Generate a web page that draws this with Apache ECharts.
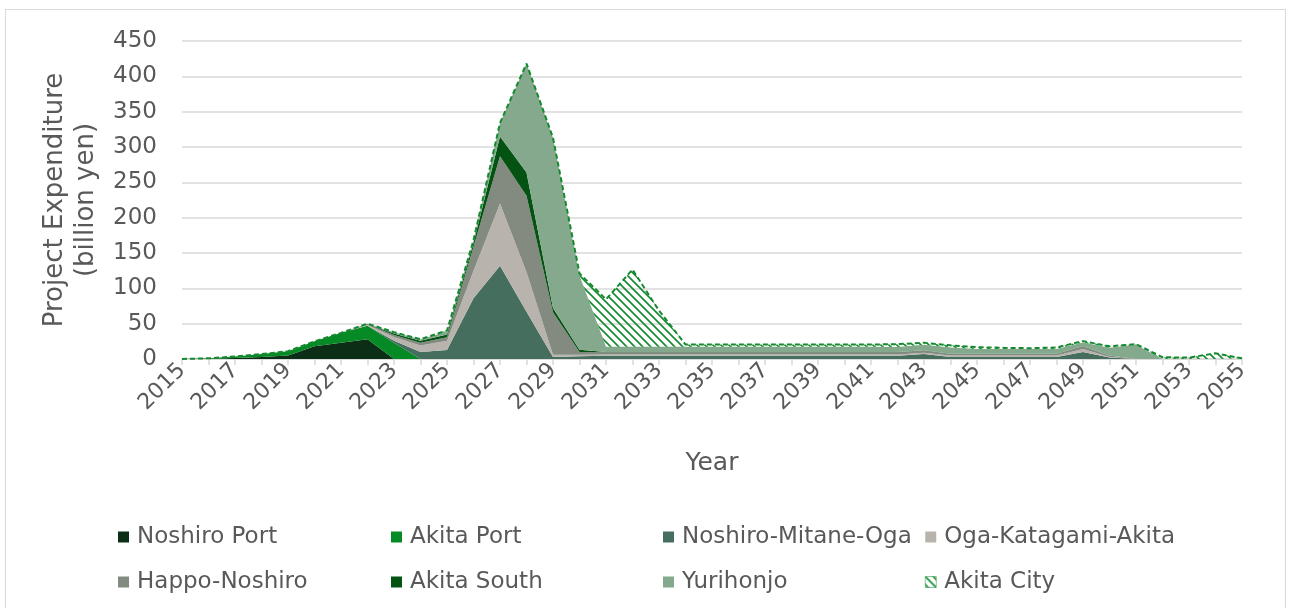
<!DOCTYPE html>
<html>
<head>
<meta charset="utf-8">
<script src="https://cdn.jsdelivr.net/npm/echarts@6/dist/echarts.min.js"></script>
<style>
  html, body { margin: 0; padding: 0; background: #fff; }
  #frame {
    position: absolute; left: 5px; top: 9px; width: 1281px; height: 620px;
    border: 1px solid #d9d9d9; box-sizing: border-box;
  }
  #chart { position: absolute; left: 0; top: 0; width: 1290px; height: 608px; }
</style>
</head>
<body>
<div id="frame"></div>
<div id="chart"></div>
<script>
// years on the x axis
const years = [
  "2015", "2016", "2017", "2018", "2019", "2020", "2021", "2022", "2023", "2024",
  "2025", "2026", "2027", "2028", "2029", "2030", "2031", "2032", "2033", "2034",
  "2035", "2036", "2037", "2038", "2039", "2040", "2041", "2042", "2043", "2044",
  "2045", "2046", "2047", "2048", "2049", "2050", "2051", "2052", "2053", "2054", "2055"
];

// project expenditure per site (billion yen), stacked bottom to top
const noshiroPort = [
  0, 0.5, 1.5, 3, 5, 18, 23, 28, 0, 0,
  0, 0, 0, 0, 0, 0, 0, 0, 0, 0,
  0, 0, 0, 0, 0, 0, 0, 0, 0, 0,
  0, 0, 0, 0, 0, 0, 0, 0, 0, 0, 0
];
const akitaPort = [
  0, 0.5, 2, 4, 6, 7, 14, 19, 23, 0,
  0, 0, 0, 0, 0, 0, 0, 0, 0, 0,
  0, 0, 0, 0, 0, 0, 0, 0, 0, 0,
  0, 0, 0, 0, 0, 0, 0, 0, 0, 0, 0
];
const noshiroMitaneOga = [
  0, 0, 0, 0, 0, 0, 0, 0, 3, 10,
  12.7, 86, 132, 67, 3, 4, 4.5, 4.5, 4.5, 4.5,
  4.5, 4.5, 4.5, 4.5, 4.5, 4.5, 4.5, 4.5, 7, 3,
  3, 3, 3, 3, 10, 2, 0, 0, 0, 0, 0
];
const ogaKatagamiAkita = [
  0, 0, 0, 0, 0, 0, 0, 1, 5, 9,
  13, 39, 88, 56, 3, 2, 2, 2, 2, 2,
  2, 2, 2, 2, 2, 2, 2, 2, 2, 2,
  2, 2, 2, 2, 4, 1, 0, 0, 0, 0, 0
];
const happoNoshiro = [
  0, 0, 0, 0, 0, 0, 0, 1, 3, 4,
  5, 34, 67, 108, 60, 4, 3, 3, 3, 3,
  3, 3, 3, 3, 3, 3, 3, 3, 3, 2,
  2, 2, 2, 2, 4, 2, 0, 0, 0, 0, 0
];
const akitaSouth = [
  0, 0, 0, 0, 0, 0, 0, 0.5, 2, 3,
  4, 5, 28, 33, 6, 3, 0.5, 0.5, 0.5, 0.5,
  0.5, 0.5, 0.5, 0.5, 0.5, 0.5, 0.5, 0.5, 0.5, 0.3,
  0.3, 0.3, 0.3, 0.3, 0.3, 0, 0, 0, 0, 0, 0
];
const yurihonjo = [
  0, 0, 0, 0, 0, 0, 0, 0.5, 2, 2,
  4, 4, 19, 154, 241, 105, 7.5, 7.5, 7.5, 7.5,
  7.5, 7.5, 7.5, 7.5, 7.5, 7.5, 7.5, 7, 7.5, 9,
  7, 7, 7, 7, 5, 11, 20, 0, 0, 0, 0
];
const akitaCity = [
  0, 0, 0, 0, 0, 0, 0, 0, 0, 0,
  1.5, 0, 0, 0, 0, 3, 67, 109, 51, 3,
  3, 3, 3, 3, 3, 3, 3, 4, 3, 3,
  2.5, 1.5, 1, 2, 2, 2, 1, 2.5, 2, 8, 1
];

const seriesNames = [
  "Noshiro Port", "Akita Port", "Noshiro-Mitane-Oga", "Oga-Katagami-Akita",
  "Happo-Noshiro", "Akita South", "Yurihonjo", "Akita City"
];
const seriesData = [
  noshiroPort, akitaPort, noshiroMitaneOga, ogaKatagamiAkita,
  happoNoshiro, akitaSouth, yurihonjo, akitaCity
];
const seriesColors = [
  "#0c2e16", "#068a25", "#466e5e", "#b8b4ad",
  "#838a7f", "#045313", "#84a98d", "#15892f"
];

/* hatch pattern for Akita City */
function makeHatch() {
  const c = document.createElement("canvas");
  c.width = 8;
  c.height = 8;
  const ctx = c.getContext("2d");
  ctx.strokeStyle = "#15892f";
  ctx.lineWidth = 1.6;
  ctx.beginPath();
  ctx.moveTo(-2, -2); ctx.lineTo(10, 10);
  ctx.moveTo(-2, 6); ctx.lineTo(2, 10);
  ctx.moveTo(6, -2); ctx.lineTo(10, 2);
  ctx.stroke();
  return { image: c, repeat: "repeat" };
}
const hatch = makeHatch();

const font = "DejaVu Sans";
const textColor = "#595959";

const series = seriesNames.map(function (name, i) {
  const isCity = name === "Akita City";
  return {
    name: name,
    type: "line",
    stack: "total",
    symbol: "none",
    animation: false,
    data: seriesData[i],
    itemStyle: { color: isCity ? hatch : seriesColors[i] },
    lineStyle: isCity
      ? { color: seriesColors[i], width: 2, type: [5, 3] }
      : { width: 0 },
    areaStyle: { color: isCity ? hatch : seriesColors[i], opacity: 1 },
    z: isCity ? 3 : 2,
  };
});

// legend in 4 columns, 2 rows like the original
const legendCols = [
  { left: 113, data: ["Noshiro Port", "Happo-Noshiro"] },
  { left: 386, data: ["Akita Port", "Akita South"] },
  { left: 658, data: ["Noshiro-Mitane-Oga", "Yurihonjo"] },
  { left: 920, data: ["Oga-Katagami-Akita", "Akita City"] },
];
const legends = legendCols.map(function (col) {
  return {
    orient: "vertical",
    left: col.left,
    top: 519,
    itemGap: 19,
    itemWidth: 11,
    itemHeight: 11,
    icon: "rect",
    selectedMode: false,
    data: col.data.map(function (n) {
      return n === "Akita City"
        ? { name: n, itemStyle: { color: hatch, borderColor: "#15892f", borderWidth: 0.5 } }
        : { name: n };
    }),
    textStyle: {
      fontFamily: font,
      fontSize: 23,
      color: textColor,
      lineHeight: 26,
      padding: [0, 0, 0, 3],
    },
  };
});

let option = {
  backgroundColor: "transparent",
  animation: false,
  legend: legends,
  grid: {
    left: 182,
    right: 48,
    top: 41,
    bottom: 249,
    containLabel: false,
  },
  xAxis: {
    type: "category",
    data: years,
    boundaryGap: false,
    name: "Year",
    nameLocation: "middle",
    nameGap: 92,
    nameTextStyle: { fontFamily: font, fontSize: 25, color: textColor },
    axisLine: { show: true, lineStyle: { color: "#d9d9d9", width: 1.5 } },
    axisTick: {
      show: true,
      interval: 0,
      length: 6,
      lineStyle: { color: "#d9d9d9", width: 1.5 },
    },
    axisLabel: {
      interval: 1,
      rotate: 45,
      margin: 8,
      fontFamily: font,
      fontSize: 22,
      color: textColor,
    },
    splitLine: { show: false },
  },
  yAxis: {
    type: "value",
    min: 0,
    max: 450,
    interval: 50,
    name: "Project Expenditure\n(billion yen)",
    nameLocation: "middle",
    nameRotate: 90,
    nameGap: 75,
    nameTextStyle: {
      fontFamily: font,
      fontSize: 26,
      color: textColor,
      lineHeight: 31,
      align: "center",
    },
    axisLine: { show: false },
    axisTick: { show: false },
    axisLabel: { margin: 25, fontFamily: font, fontSize: 23, color: textColor },
    splitLine: { show: true, lineStyle: { color: "#d9d9d9", width: 1.5 } },
  },
  series: series,
};

const myChart = echarts.init(document.getElementById("chart"));
myChart.setOption(option);
window.addEventListener("resize", () => {
  myChart.resize();
});
</script>
</body>
</html>
